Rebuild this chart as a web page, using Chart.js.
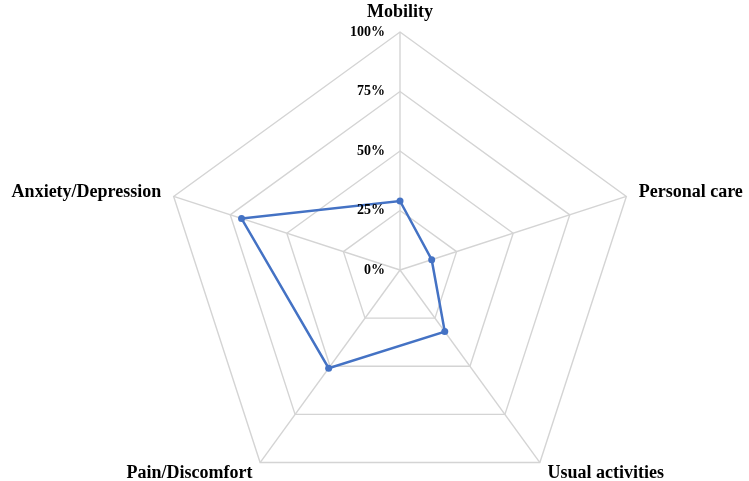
<!DOCTYPE html>
<html>
<head>
<meta charset="utf-8">
<script src="https://cdn.jsdelivr.net/npm/chart.js@4.4.1/dist/chart.umd.min.js"></script>
<style>
  html, body { margin: 0; padding: 0; background: #fff; }
  #wrap { width: 749px; height: 481px; }
</style>
</head>
<body>
<div id="wrap"><canvas id="radarChart"></canvas></div>
<script>
// EQ-5D dimensions and share of respondents reporting problems
const dimensions = ["Mobility", "Personal care", "Usual activities", "Pain/Discomfort", "Anxiety/Depression"];
const shares = [29, 14, 32, 51, 70];
const tickValues = [0, 25, 50, 75, 100];

const serif = "'Liberation Serif', 'Times New Roman', serif";

// Tick labels sit to the left of the vertical axis, point labels just
// outside each spoke - both placed through the radial scale
const radarText = {
  id: "radarText",
  afterDraw(chart) {
    const scale = chart.scales.r;
    const ctx = chart.ctx;
    ctx.save();
    ctx.fillStyle = "#000";

    ctx.font = "bold 14px " + serif;
    ctx.textAlign = "right";
    ctx.textBaseline = "middle";
    tickValues.forEach((v) => {
      const d = scale.getDistanceFromCenterForValue(v);
      ctx.fillText(v + "%", scale.xCenter - 15, scale.yCenter - d);
    });

    ctx.font = "bold 18px " + serif;
    dimensions.forEach((label, i) => {
      const pos = scale.getPointPosition(i, scale.drawingArea + 13);
      const dx = pos.x - scale.xCenter;
      if (Math.abs(dx) < 1) {
        ctx.textAlign = "center";
        ctx.textBaseline = "bottom";
        ctx.fillText(label, pos.x, pos.y + 2);
      } else {
        ctx.textAlign = dx > 0 ? "left" : "right";
        ctx.textBaseline = "middle";
        ctx.fillText(label, pos.x, pos.y);
      }
    });
    ctx.restore();
  },
};

const ctx = document.getElementById("radarChart").getContext("2d");
const chart = new Chart(ctx, {
  type: "radar",
  data: {
    labels: dimensions,
    datasets: [
      {
        data: shares,
        borderColor: "#4472C4",
        backgroundColor: "#4472C4",
        borderWidth: 2.5,
        pointRadius: 3.5,
        pointBackgroundColor: "#4472C4",
        pointBorderWidth: 0,
        fill: false,
      },
    ],
  },
  options: {
    responsive: true,
    maintainAspectRatio: false,
    animation: false,
    plugins: {
      legend: { display: false },
      tooltip: { enabled: false },
    },
    scales: {
      r: {
        min: 0,
        max: 100,
        ticks: { stepSize: 25, display: false },
        grid: { color: "#d4d4d4", lineWidth: 1.4 },
        angleLines: { color: "#d4d4d4", lineWidth: 1.4 },
        pointLabels: { display: false },
        // web size of the plot area in the original figure
        afterFit(scale) {
          scale.xCenter = 400;
          scale.yCenter = 270;
          scale.drawingArea = 238;
        },
      },
    },
  },
  plugins: [radarText],
});
</script>
</body>
</html>
